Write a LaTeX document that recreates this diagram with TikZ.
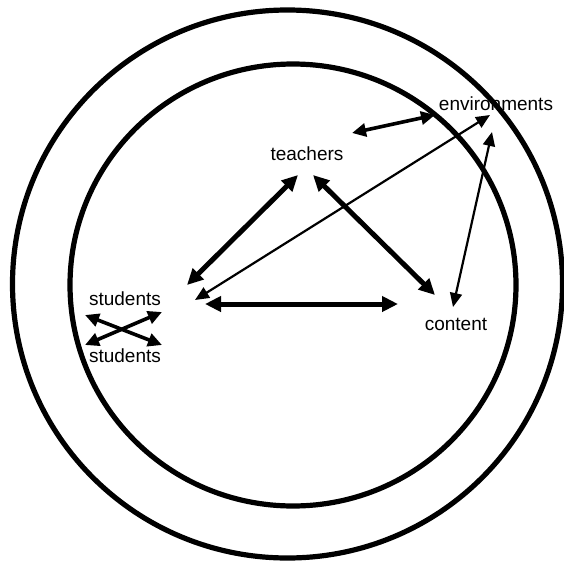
\documentclass[tikz,border=0pt]{standalone}
\usepackage{fontspec}
\setmainfont{Liberation Sans}
\usetikzlibrary{arrows.meta}
\begin{document}
\begin{tikzpicture}[x=1pt,y=-1pt,
  ring/.style={line width=5.2pt},
  lbl/.style={font=\fontsize{19}{21}\selectfont, inner sep=0pt},
  thickarr/.style={line width=5pt, {Triangle[length=16pt,width=15pt]}-{Triangle[length=16pt,width=15pt]}},
  midarr/.style={line width=3.6pt, {Triangle[length=14pt,width=13pt]}-{Triangle[length=14pt,width=13pt]}},
  thinarr/.style={line width=2.2pt, {Triangle[length=14pt,width=12pt]}-{Triangle[length=14pt,width=12pt]}}]
\useasboundingbox (0,0) rectangle (564,566);
\draw[ring] (287.5,284) ellipse [x radius=275, y radius=274];
\draw[ring] (293,285) ellipse [x radius=223, y radius=221];
\node[lbl] (teachers) at (307,154) {teachers};
\node[lbl] (env) at (496,104) {environments};
\node[lbl] (stud1) at (125,299) {students};
\node[lbl] (stud2) at (125,356) {students};
\node[lbl] (content) at (456,324) {content};
\coordinate (tL) at (298,175);
\coordinate (sT) at (187,285);
\coordinate (tR) at (313,175);
\coordinate (cT) at (435,295);
\coordinate (sR) at (205,304);
\coordinate (cL) at (398,304);
\coordinate (sE) at (195,300);
\coordinate (eS) at (490,115);
\coordinate (cE) at (453,307);
\coordinate (eC) at (492,132);
\coordinate (tE) at (352,133);
\coordinate (eT) at (435,115);
\coordinate (x1) at (85,315);
\coordinate (x2) at (162,345);
\coordinate (x3) at (85,345);
\coordinate (x4) at (162,312);
\draw[thickarr] (tL) -- (sT);
\draw[thickarr] (tR) -- (cT);
\draw[thickarr] (sR) -- (cL);
\draw[thinarr] (sE) -- (eS);
\draw[thinarr] (cE) -- (eC);
\draw[midarr] (tE) -- (eT);
\draw[midarr] (x1) -- (x2);
\draw[midarr] (x3) -- (x4);
\end{tikzpicture}
\end{document}
